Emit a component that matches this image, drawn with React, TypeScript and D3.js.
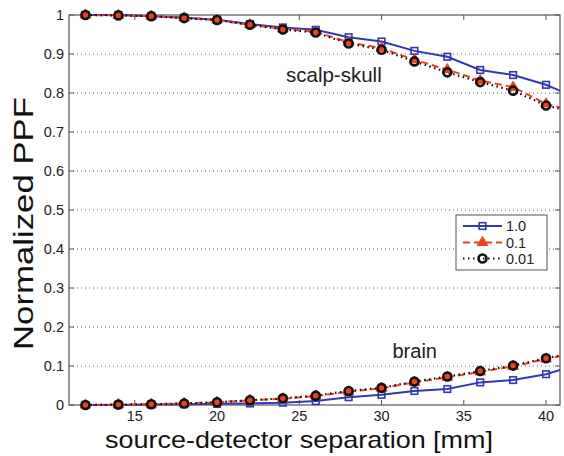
import React from "react";
import * as d3 from "d3";

const separation = [12, 14, 16, 18, 20, 22, 24, 26, 28, 30, 32, 34, 36, 38, 40, 42];

const scalp10 = [1.0, 1.0, 0.997, 0.993, 0.988, 0.977, 0.968, 0.962, 0.943, 0.932, 0.908, 0.893, 0.859, 0.846, 0.821, 0.785];
const scalp01 = [1.0, 0.999, 0.997, 0.993, 0.987, 0.975, 0.964, 0.957, 0.930, 0.915, 0.885, 0.860, 0.832, 0.815, 0.772, 0.752];
const scalp001 = [1.0, 0.999, 0.997, 0.992, 0.987, 0.975, 0.963, 0.955, 0.927, 0.911, 0.881, 0.853, 0.828, 0.806, 0.768, 0.748];

const brain10 = [0, 0, 0.001, 0.002, 0.003, 0.004, 0.006, 0.010, 0.020, 0.026, 0.036, 0.041, 0.058, 0.064, 0.079, 0.104];
const brain01 = [0, 0.001, 0.002, 0.004, 0.007, 0.012, 0.016, 0.023, 0.034, 0.043, 0.058, 0.071, 0.085, 0.099, 0.118, 0.135];
const brain001 = [0, 0.001, 0.002, 0.004, 0.007, 0.012, 0.017, 0.024, 0.036, 0.044, 0.060, 0.073, 0.087, 0.101, 0.120, 0.137];

const xTicks = [15, 20, 25, 30, 35, 40];
const yTicks = [0, 0.1, 0.2, 0.3, 0.4, 0.5, 0.6, 0.7, 0.8, 0.9, 1];
const legendLabels = ["1.0", "0.1", "0.01"];

const FONT = "'Liberation Sans', Arial, Helvetica, sans-serif";
const BLUE = "#3238b4";
const RED = "#f2401c";
const BLACK = "#111111";
const AXIS = "#555555";

export default function App() {
  const W = 564, H = 456;
  const left = 69, right = 560, top = 15, bottom = 405;
  const x = d3.scaleLinear().domain([11, 40.85]).range([left, right]);
  const y = d3.scaleLinear().domain([0, 1]).range([bottom, top]);

  const line = d3
    .line<[number, number]>()
    .x((d) => x(d[0]))
    .y((d) => y(d[1]));

  const pts = (vals: number[]) => separation.map((s, i) => [s, vals[i]] as [number, number]);
  const visible = (vals: number[]) => pts(vals).filter((d) => d[0] <= 40.85);

  const series = [
    { key: "1.0", color: BLUE, dash: undefined as string | undefined, data: [scalp10, brain10], marker: "square" },
    { key: "0.1", color: RED, dash: "7,4", data: [scalp01, brain01], marker: "triangle" },
    { key: "0.01", color: BLACK, dash: "1.5,3.5", data: [scalp001, brain001], marker: "circle" },
  ];

  const marker = (type: string, cx: number, cy: number, k: string) => {
    if (type === "square")
      return <rect key={k} x={cx - 3.3} y={cy - 3.3} width={6.6} height={6.6} fill="none" stroke={BLUE} strokeWidth={1.6} />;
    if (type === "triangle") {
      const tri = d3.symbol().type(d3.symbolTriangle).size(48)();
      return <path key={k} d={tri || ""} transform={`translate(${cx},${cy})`} fill={RED} stroke={RED} strokeWidth={1} />;
    }
    return <circle key={k} cx={cx} cy={cy} r={4} fill="none" stroke={BLACK} strokeWidth={2.6} />;
  };

  const tickLen = 5;
  const legX = 456, legY = 215, legW = 91, legH = 55;
  const rowY = [226, 242.5, 258.5];

  return (
    <svg width={W} height={H} style={{ position: "absolute", left: 0, top: 0, background: "#fff" }} fontFamily={FONT}>
      <defs>
        <clipPath id="plotclip">
          <rect x={left} y={0} width={right - left} height={H} />
        </clipPath>
      </defs>
      <rect x={0} y={0} width={W} height={H} fill="#fff" />
      {/* grid */}
      {yTicks
        .filter((t) => t > 0 && t < 1)
        .map((t) => (
          <line key={"g" + t} x1={left} x2={right} y1={y(t)} y2={y(t)} stroke="#666" strokeWidth={1} strokeDasharray="1,3" />
        ))}
      {/* axes box */}
      <rect x={left} y={top} width={right - left} height={bottom - top} fill="none" stroke={AXIS} strokeWidth={1.2} />
      {yTicks.map((t) => (
        <g key={"yt" + t}>
          <line x1={left} x2={left + tickLen} y1={y(t)} y2={y(t)} stroke={AXIS} strokeWidth={1} />
          <line x1={right} x2={right - tickLen} y1={y(t)} y2={y(t)} stroke={AXIS} strokeWidth={1} />
          <text x={left - 5} y={y(t)} dy="0.35em" textAnchor="end" fontSize={14.5} fill="#222">
            {String(t)}
          </text>
        </g>
      ))}
      {xTicks.map((t) => (
        <g key={"xt" + t}>
          <line x1={x(t)} x2={x(t)} y1={bottom} y2={bottom - tickLen} stroke={AXIS} strokeWidth={1} />
          <line x1={x(t)} x2={x(t)} y1={top} y2={top + tickLen} stroke={AXIS} strokeWidth={1} />
          <text x={x(t)} y={421} textAnchor="middle" fontSize={14.5} fill="#222">
            {String(t)}
          </text>
        </g>
      ))}
      {/* series lines */}
      <g clipPath="url(#plotclip)">
        {series.map((s) =>
          s.data.map((vals, j) => (
            <path
              key={s.key + "l" + j}
              d={line(pts(vals)) || ""}
              fill="none"
              stroke={s.color}
              strokeWidth={s.marker === "circle" ? 2.2 : 2}
              strokeDasharray={s.dash}
            />
          ))
        )}
      </g>
      {series.map((s) =>
        s.data.map((vals, j) =>
          visible(vals).map((d, i) => marker(s.marker, x(d[0]), y(d[1]), s.key + "m" + j + "-" + i))
        )
      )}
      {/* annotations */}
      <text x={286} y={81.5} fontSize={20.5} fill="#222">scalp-skull</text>
      <text x={392.5} y={358} fontSize={20} fill="#222">brain</text>
      {/* legend */}
      <rect x={legX} y={legY} width={legW} height={legH} fill="#fff" stroke={AXIS} strokeWidth={1} />
      {series.map((s, i) => (
        <g key={"leg" + s.key}>
          <line x1={463} x2={502} y1={rowY[i]} y2={rowY[i]} stroke={s.color} strokeWidth={2} strokeDasharray={s.dash} />
          {marker(s.marker, 482.5, rowY[i], "lm" + i)}
          <text x={506} y={rowY[i]} dy="0.36em" fontSize={14.5} fill="#222">
            {legendLabels[i]}
          </text>
        </g>
      ))}
      {/* axis labels */}
      <text x={299} y={448} textAnchor="middle" fontSize={24} fill="#111" textLength={388} lengthAdjust="spacingAndGlyphs">
        source-detector separation [mm]
      </text>
      <text
        transform={`translate(33,223.5) rotate(-90)`}
        textAnchor="middle"
        fontSize={28}
        fill="#111"
        textLength={253}
        lengthAdjust="spacingAndGlyphs"
      >
        Normalized PPF
      </text>
    </svg>
  );
}
